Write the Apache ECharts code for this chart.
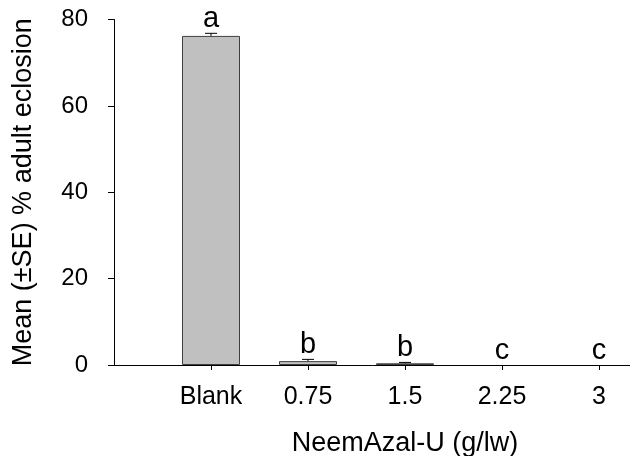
<!DOCTYPE html>
<html style="height: 100%">
<head>
    <meta charset="utf-8">
    <title>NeemAzal-U adult eclosion</title>
</head>
<body style="height: 100%; margin: 0; background: #fff;">
<div id="container" style="width: 630px; height: 456px"></div>
<script src="https://cdn.jsdelivr.net/npm/echarts@6/dist/echarts.min.js"></script>
<script type="text/javascript">
    // data
    var categories = ['Blank', '0.75', '1.5', '2.25', '3'];
    var means = [76.2, 0.9, 0.4, 0, 0];
    var errors = [0.6, 0.4, 0.2, 0, 0];
    var letters = ['a', 'b', 'b', 'c', 'c'];
    var yTicks = [0, 20, 40, 60, 80];

    // empty slots on both sides so the axis starts one step before Blank and runs off the edge
    var axisData = [''].concat(categories, ['']);
    var barData = [null];
    var errData = [];
    for (var i = 0; i < categories.length; i++) {
        barData.push({
            value: means[i],
            itemStyle: {borderWidth: means[i] > 0 ? 1 : 0}
        });
        errData.push([i + 1, means[i], errors[i]]);
    }
    barData.push(null);

    var font = '"Liberation Sans", Arial, sans-serif';
    var dom = document.getElementById("container");
    var myChart = echarts.init(dom);
    var option = {
        animation: false,
        grid: {
            left: 114,
            right: -66,
            top: 19.5,
            bottom: 91,
            outerBoundsMode: 'none',
            containLabel: false
        },
        xAxis: {
            type: 'category',
            boundaryGap: false,
            data: axisData,
            name: 'NeemAzal-U (g/lw)',
            nameLocation: 'middle',
            nameGap: 65,
            nameTextStyle: {fontSize: 27, fontFamily: font, color: '#000'},
            axisLine: {lineStyle: {color: '#000', width: 1}},
            axisTick: {
                length: 5,
                lineStyle: {color: '#000'},
                interval: function (idx, val) { return val !== ''; }
            },
            axisLabel: {
                interval: 0,
                margin: 20,
                fontSize: 25,
                fontFamily: font,
                color: '#000'
            },
            splitLine: {show: false}
        },
        yAxis: {
            type: 'value',
            min: yTicks[0],
            max: yTicks[yTicks.length - 1],
            interval: 20,
            name: 'Mean (±SE) % adult eclosion',
            nameLocation: 'middle',
            nameGap: 77,
            nameRotate: 90,
            nameTextStyle: {fontSize: 27, fontFamily: font, color: '#000'},
            axisLine: {show: true, lineStyle: {color: '#000', width: 1}},
            axisTick: {show: true, length: 6, lineStyle: {color: '#000'}},
            axisLabel: {
                margin: 26,
                fontSize: 24,
                fontFamily: font,
                color: '#000'
            },
            splitLine: {show: false}
        },
        series: [
            {
                type: 'bar',
                data: barData,
                barWidth: 58,
                itemStyle: {color: '#c0c0c0', borderColor: '#404040', borderWidth: 1}
            },
            {
                type: 'custom',
                data: errData,
                z: 5,
                renderItem: function (params, api) {
                    var x = api.value(0);
                    var m = api.value(1);
                    var e = api.value(2);
                    var base = api.coord([x, m]);
                    var top = api.coord([x, m + e]);
                    var children = [];
                    if (e > 0) {
                        children.push({
                            type: 'line',
                            shape: {x1: base[0], y1: base[1], x2: top[0], y2: top[1]},
                            style: {stroke: '#000', lineWidth: 1}
                        });
                        children.push({
                            type: 'line',
                            shape: {x1: top[0] - 6, y1: top[1], x2: top[0] + 6, y2: top[1]},
                            style: {stroke: '#000', lineWidth: 1}
                        });
                    }
                    children.push({
                        type: 'text',
                        style: {
                            text: letters[params.dataIndex],
                            x: top[0],
                            y: top[1],
                            align: 'center',
                            verticalAlign: 'bottom',
                            fontSize: 29,
                            fontFamily: font,
                            fill: '#000'
                        }
                    });
                    return {type: 'group', children: children};
                }
            }
        ]
    };
    myChart.setOption(option, true);
</script>
</body>
</html>
